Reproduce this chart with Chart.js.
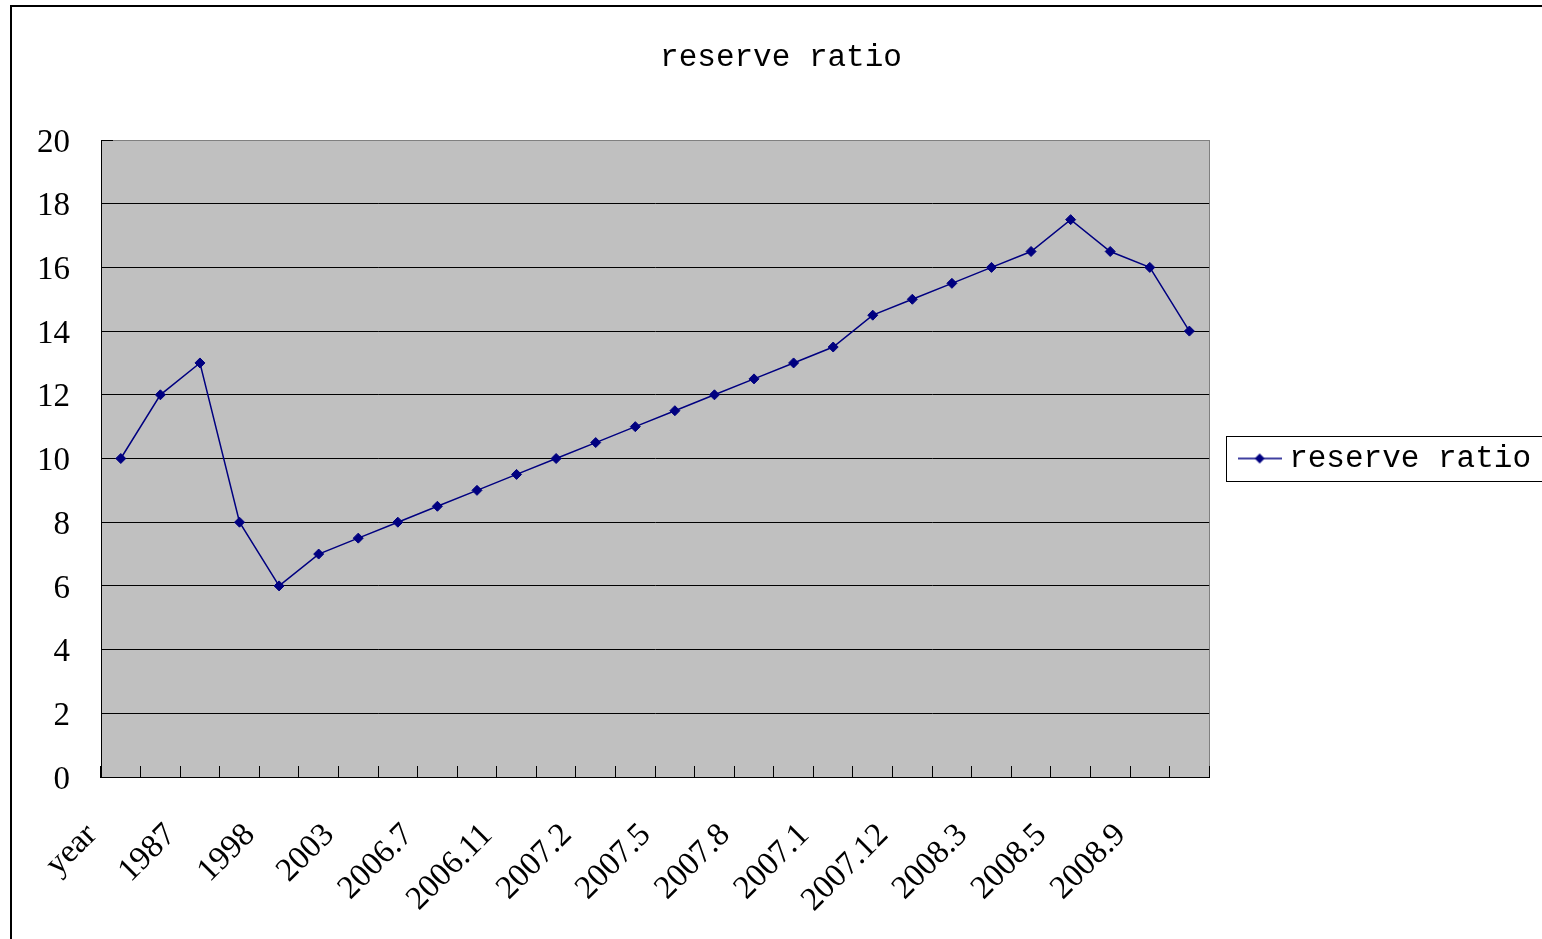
<!DOCTYPE html>
<html>
<head>
<meta charset="utf-8">
<script src="https://cdn.jsdelivr.net/npm/chart.js@4/dist/chart.umd.min.js"></script>
<style>
  html, body { margin: 0; padding: 0; background: #fff; overflow: hidden; }
  #wrap { position: relative; width: 1542px; height: 939px; overflow: hidden; }
  #c { position: absolute; left: 0; top: 0; }
  #frame { position: absolute; left: 10px; top: 5px; width: 1600px; height: 1000px;
           border: 2px solid #000; pointer-events: none; }
</style>
</head>
<body>
<div id="wrap">
  <canvas id="c" width="1560" height="939"></canvas>
  <div id="frame"></div>
</div>
<script>
// data
const categories = ['year', '1985', '1987', '1988', '1998', '1999', '2003', '2004',
  '2006.7', '2006.8', '2006.11', '2007.1', '2007.2', '2007.4', '2007.5', '2007.6',
  '2007.8', '2007.9', '2007.1', '2007.11', '2007.12', '2008.1', '2008.3', '2008.4',
  '2008.5', '2008.6', '2008.9', '2008.12'];
const reserveRatio = [10, 12, 13, 8, 6, 7, 7.5, 8, 8.5, 9, 9.5, 10, 10.5, 11, 11.5,
  12, 12.5, 13, 13.5, 14.5, 15, 15.5, 16, 16.5, 17.5, 16.5, 16, 14];
const seriesName = 'reserve ratio';
const yTicks = [0, 2, 4, 6, 8, 10, 12, 14, 16, 18, 20];

const navy = '#000080';

// legend sample: short line with a diamond in the middle
const sample = document.createElement('canvas');
sample.width = 44;
sample.height = 12;
(function () {
  const g = sample.getContext('2d');
  g.strokeStyle = navy;
  g.lineWidth = 1.5;
  g.beginPath();
  g.moveTo(0, 6);
  g.lineTo(44, 6);
  g.stroke();
  g.fillStyle = navy;
  g.beginPath();
  g.moveTo(22, 1);
  g.lineTo(27, 6);
  g.lineTo(22, 11);
  g.lineTo(17, 6);
  g.closePath();
  g.fill();
})();

// gray plot area like the old Excel charts
const plotBackground = {
  id: 'plotBackground',
  beforeDraw(chart) {
    const { ctx, chartArea: a } = chart;
    ctx.save();
    ctx.fillStyle = '#C0C0C0';
    ctx.fillRect(a.left, a.top, a.right - a.left, a.bottom - a.top);
    ctx.strokeStyle = '#808080';
    ctx.lineWidth = 1;
    ctx.strokeRect(Math.round(a.left) + 0.5, Math.round(a.top) + 0.5,
      Math.round(a.right - a.left), Math.round(a.bottom - a.top));
    ctx.restore();
  }
};

// frame round the legend
const legendBox = {
  id: 'legendBox',
  afterDraw(chart) {
    const lg = chart.legend;
    if (!lg || !lg.legendHitBoxes || !lg.legendHitBoxes.length) return;
    const hb = lg.legendHitBoxes[0];
    const cy = hb.top + hb.height / 2;
    const ctx = chart.ctx;
    ctx.save();
    ctx.strokeStyle = '#000';
    ctx.lineWidth = 1;
    ctx.strokeRect(Math.round(hb.left - 20) + 0.5, Math.round(cy - 23) + 0.5, 400, 45);
    ctx.restore();
  }
};

new Chart(document.getElementById('c'), {
  type: 'line',
  data: {
    labels: categories,
    datasets: [{
      label: seriesName,
      data: reserveRatio,
      borderColor: navy,
      backgroundColor: navy,
      borderWidth: 1.5,
      tension: 0,
      fill: false,
      pointStyle: 'rectRot',
      pointRadius: 5,
      pointBorderWidth: 1,
      pointBackgroundColor: navy,
      pointBorderColor: navy
    }]
  },
  options: {
    responsive: false,
    animation: false,
    layout: { padding: { left: 21, right: 19, top: 0, bottom: 0 } },
    plugins: {
      title: {
        display: true,
        text: seriesName,
        color: '#000',
        font: { family: "'Liberation Mono', monospace", size: 31, weight: 'normal' },
        padding: { top: 39.4, bottom: 63.4 }
      },
      legend: {
        position: 'right',
        fullSize: false,
        labels: {
          usePointStyle: true,
          pointStyle: sample,
          pointStyleWidth: 28,
          padding: 36.5,
          color: '#000',
          font: { family: "'Liberation Mono', monospace", size: 31 }
        }
      },
      tooltip: { enabled: false }
    },
    scales: {
      x: {
        offset: true,
        grid: {
          offset: true,
          drawOnChartArea: false,
          drawTicks: true,
          tickLength: -11,
          tickColor: '#000'
        },
        border: { color: '#000', width: 1 },
        ticks: {
          autoSkip: false,
          minRotation: 45,
          maxRotation: 45,
          padding: 50,
          labelOffset: -29,
          color: '#000',
          font: { family: "'Liberation Serif', serif", size: 33 },
          callback: function (value, index) {
            return index % 2 === 0 ? categories[index] : '';
          }
        },
        afterFit(scale) { scale.height = 162; }
      },
      y: {
        min: 0,
        max: 20,
        afterBuildTicks(scale) { scale.ticks = yTicks.map(v => ({ value: v })); },
        grid: {
          color: ctx => (ctx.tick && ctx.tick.value === 20 ? '#808080' : '#000'),
          tickColor: '#000',
          tickLength: -12,
          lineWidth: 1
        },
        border: { color: '#000', width: 1 },
        ticks: {
          padding: 43,
          labelOffset: 3,
          color: '#000',
          font: { family: "'Liberation Serif', serif", size: 33 }
        },
        afterFit(scale) { scale.width = 80; }
      }
    }
  },
  plugins: [plotBackground, legendBox]
});
</script>
</body>
</html>
